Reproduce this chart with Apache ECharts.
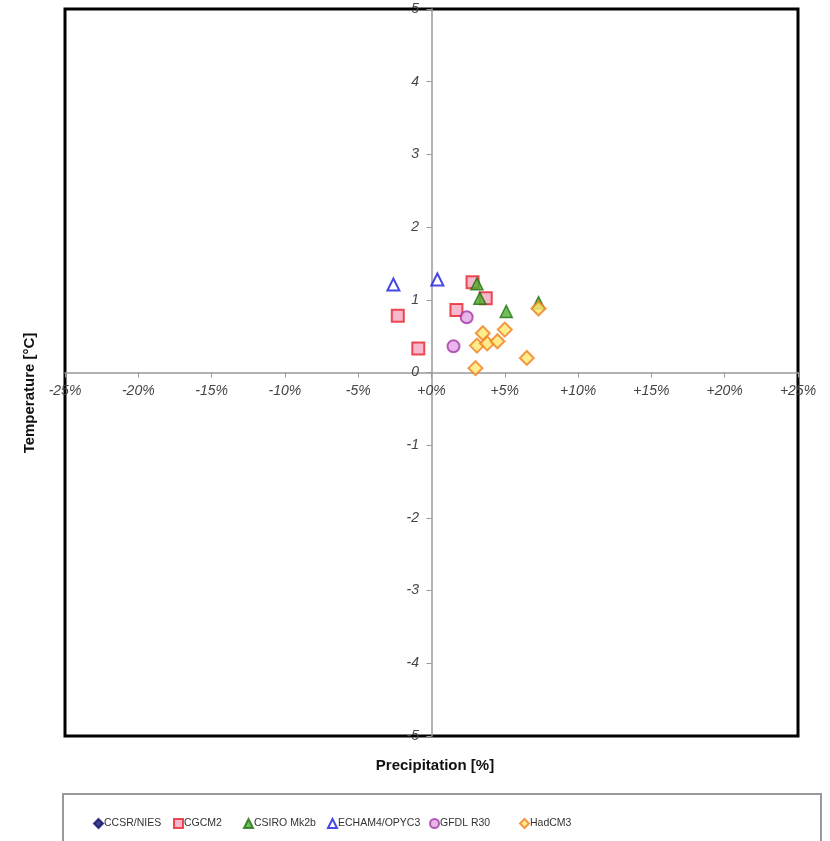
<!DOCTYPE html>
<html>
<head>
<meta charset="utf-8">
<script src="https://cdn.jsdelivr.net/npm/echarts@6/dist/echarts.min.js"></script>
<style>
  html, body { margin: 0; padding: 0; background: #fff; }
  #chart { width: 830px; height: 841px; }
</style>
</head>
<body>
<div id="chart"></div>
<script>
// precipitation change [%], temperature change [°C]
var ccsr = [];
var cgcm2 = [[2.8, 1.24], [3.7, 1.02], [1.7, 0.86], [-2.3, 0.78], [-0.9, 0.33]];
var csiro = [[3.1, 1.22], [3.3, 1.02], [5.1, 0.84], [7.3, 0.96]];
var echam = [[-2.6, 1.21], [0.4, 1.28]];
var gfdl = [[2.4, 0.76], [1.5, 0.36]];
var hadcm3 = [[7.3, 0.88], [3.5, 0.54], [5.0, 0.59], [3.1, 0.37], [3.8, 0.40], [4.5, 0.43], [6.5, 0.20], [3.0, 0.06]];

var models = ['CCSR/NIES', 'CGCM2', 'CSIRO Mk2b', 'ECHAM4/OPYC3', 'GFDL R30', 'HadCM3'];
var legendLeft = [88, 168, 238, 322, 424, 514];

var xTicks = { min: -25, max: 25, step: 5 };
var yTicks = { min: -5, max: 5, step: 1 };

var chart = echarts.init(document.getElementById('chart'));

var labelFont = {
    color: '#444',
    fontStyle: 'italic',
    fontFamily: 'Liberation Sans, Arial',
    fontSize: 14
};

function pct(v) {
    if (v >= 0) return '+' + v + '%';
    return v + '%';
}

var legends = models.map(function (m, i) {
    return {
        left: legendLeft[i], top: 813,
        itemWidth: 9, itemHeight: 9, itemGap: 0,
        textStyle: { color: '#333', fontSize: 10.5, fontFamily: 'Liberation Sans, Arial', padding: [0, 0, 0, -4] },
        data: [m]
    };
});

var option = {
    backgroundColor: '#fff',
    animation: false,
    grid: {
        left: 65, right: 32, top: 9, bottom: 105,
        show: true, borderColor: '#000', borderWidth: 3, backgroundColor: 'transparent'
    },
    xAxis: {
        type: 'value',
        min: xTicks.min, max: xTicks.max, interval: xTicks.step,
        axisLine: { onZero: true, lineStyle: { color: '#999', width: 1.5 } },
        axisTick: { show: true, length: 5, lineStyle: { color: '#999' } },
        splitLine: { show: false },
        // labels sit under the zero line, not at the grid edge
        axisLabel: Object.assign({ margin: -352, formatter: pct, showMinLabel: true, showMaxLabel: true }, labelFont)
    },
    yAxis: {
        type: 'value',
        min: yTicks.min, max: yTicks.max, interval: yTicks.step,
        axisLine: { onZero: true, lineStyle: { color: '#999', width: 1.5 } },
        axisTick: { show: true, length: 5, lineStyle: { color: '#999' } },
        splitLine: { show: false },
        axisLabel: Object.assign({ margin: -354, showMinLabel: true, showMaxLabel: true }, labelFont)
    },
    legend: legends,
    graphic: [
        {
            type: 'rect', left: 62, top: 793,
            shape: { width: 758, height: 60 },
            style: { fill: '#fff', stroke: '#999', lineWidth: 2 },
            z: -1
        },
        {
            type: 'text', x: 435, y: 766,
            style: { text: 'Precipitation [%]', font: 'bold 15px Liberation Sans, Arial', fill: '#111', align: 'center', verticalAlign: 'middle' }
        },
        {
            type: 'text', x: 30, y: 393, rotation: Math.PI / 2,
            style: { text: 'Temperature [°C]', font: 'bold 15px Liberation Sans, Arial', fill: '#111', align: 'center', verticalAlign: 'middle' }
        }
    ],
    series: [
        {
            name: 'CCSR/NIES', type: 'scatter', data: ccsr,
            symbol: 'diamond', symbolSize: 10,
            itemStyle: { color: '#101070', borderColor: '#101070', borderWidth: 1 }
        },
        {
            name: 'CGCM2', type: 'scatter', data: cgcm2,
            symbol: 'rect', symbolSize: 12,
            itemStyle: { color: '#f4a6c0', borderColor: '#e8202a', borderWidth: 2 }
        },
        {
            name: 'CSIRO Mk2b', type: 'scatter', data: csiro,
            symbol: 'triangle', symbolSize: 12,
            itemStyle: { color: '#4caf30', borderColor: '#207010', borderWidth: 1.5 }
        },
        {
            name: 'ECHAM4/OPYC3', type: 'scatter', data: echam,
            symbol: 'triangle', symbolSize: 12,
            itemStyle: { color: '#fff', borderColor: '#1a1ae0', borderWidth: 2 }
        },
        {
            name: 'GFDL R30', type: 'scatter', data: gfdl,
            symbol: 'circle', symbolSize: 12,
            itemStyle: { color: '#e4a4e4', borderColor: '#a038a8', borderWidth: 2 }
        },
        {
            name: 'HadCM3', type: 'scatter', data: hadcm3,
            symbol: 'diamond', symbolSize: 14,
            itemStyle: { color: '#ffe870', borderColor: '#f08020', borderWidth: 2 }
        }
    ]
};

option && chart.setOption(option);
</script>
</body>
</html>
